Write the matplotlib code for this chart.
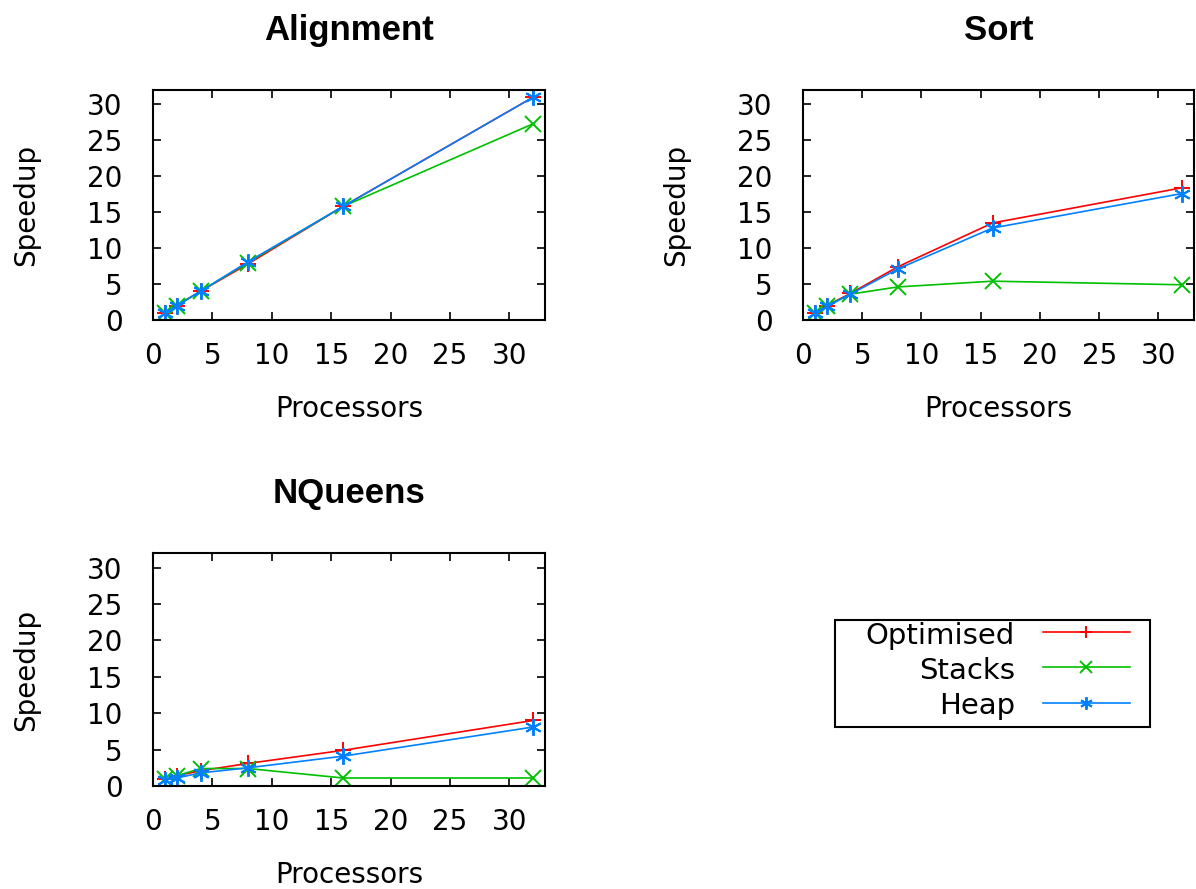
import matplotlib
matplotlib.use("Agg")
from matplotlib import pyplot as plt
from matplotlib.patches import Rectangle

plt.rcParams['font.family'] = 'DejaVu Sans'

processors = [1, 2, 4, 8, 16, 32]

alignment_opt = [1, 2, 4, 7.8, 15.8, 31.0]
alignment_stacks = [1, 2, 4, 8, 15.8, 27.3]
alignment_heap = [1, 2, 4, 8.1, 15.8, 31.0]

sort_opt = [1, 2, 3.7, 7.4, 13.5, 18.4]
sort_stacks = [1, 1.9, 3.6, 4.6, 5.4, 4.9]
sort_heap = [1, 1.9, 3.6, 7.1, 12.8, 17.6]

nqueens_opt = [0.9, 1.4, 2.1, 3.1, 4.9, 9.0]
nqueens_stacks = [0.9, 1.4, 2.4, 2.4, 1.1, 1.1]
nqueens_heap = [0.8, 1.1, 1.8, 2.5, 4.1, 8.1]

series_names = ['Optimised', 'Stacks', 'Heap']
colors = ['#ff0000', '#00c000', '#0080ff']
markers = ['+', 'x', (6, 2, 0)]

panels = [
    ('Alignment', [alignment_opt, alignment_stacks, alignment_heap], [153, 90, 545, 320]),
    ('Sort', [sort_opt, sort_stacks, sort_heap], [803, 90, 1194, 320]),
    ('NQueens', [nqueens_opt, nqueens_stacks, nqueens_heap], [153, 553, 545, 786]),
]

W, H = 1196, 889
fig = plt.figure(figsize=(W / 100, H / 100), dpi=100)

handles = []
for title, series, (x0, y0, x1, y1) in panels:
    ax = fig.add_axes([x0 / W, 1 - y1 / H, (x1 - x0) / W, (y1 - y0) / H])
    handles = []
    for vals, c, m, name in zip(series, colors, markers, series_names):
        h, = ax.plot(processors, vals, color=c, marker=m, markersize=12,
                     markeredgewidth=1.4, linewidth=1.2, label=name)
        handles.append(h)
    ax.set_xlim(0, 33)
    ax.set_ylim(0, 32)
    ax.set_xticks([0, 5, 10, 15, 20, 25, 30])
    ax.set_yticks([0, 5, 10, 15, 20, 25, 30])
    ax.tick_params(direction='in', length=6, width=1.2, top=True, right=True,
                   labelsize=20, colors='black')
    ax.tick_params(axis='x', pad=16)
    ax.tick_params(axis='y', pad=22)
    for s in ax.spines.values():
        s.set_linewidth(1.5)
    ax.set_xlabel('Processors', fontsize=20, labelpad=18)
    ax.set_ylabel('Speedup', fontsize=20, labelpad=34)
    ax.set_title(title, fontsize=25, fontweight='bold', family='Liberation Sans', pad=36)

# legend without its own frame; the box is drawn separately
leg = fig.legend(handles, series_names, loc='center right',
                 bbox_to_anchor=(1130 / W, 1 - 671 / H),
                 markerfirst=False, fontsize=21, handlelength=3.0, handletextpad=0.95,
                 labelspacing=0.25, frameon=False, borderpad=0, borderaxespad=0,
                 markerscale=0.75)
leg._legend_box.align = 'right'
for vp in leg._legend_handle_box.get_children():
    for hp in vp.get_children():
        hp.align = 'right'

fig.patches.append(Rectangle((835 / W, 1 - 727 / H), 315 / W, 107 / H,
                             transform=fig.transFigure, fill=False,
                             edgecolor='black', linewidth=1.5))

fig.savefig('out.png', dpi=100)
